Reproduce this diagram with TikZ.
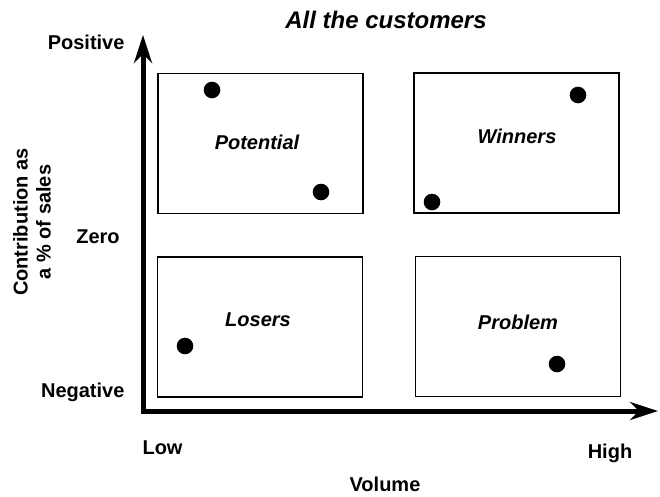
\documentclass[tikz,border=0pt]{standalone}
\usepackage{fontspec}
\setmainfont{Liberation Sans}
\usetikzlibrary{arrows.meta}
\begin{document}
\begin{tikzpicture}[x=1pt, y=-1pt, line join=miter,
  >={Stealth[length=28pt,width=18pt]},
  quad/.style={draw, line width=1.2pt, minimum width=205pt, minimum height=140pt, inner sep=0pt},
  lbl/.style={font=\fontsize{20}{23}\selectfont\bfseries\itshape},
  axlbl/.style={font=\fontsize{20}{23}\selectfont\bfseries}]
\useasboundingbox (0,0) rectangle (660,496);
\def \xo{143};
\def \yo{411};
% axes
\coordinate (ytop) at (\xo,35);
\coordinate (org) at (\xo,\yo);
\coordinate (xend) at (658,\yo);
\draw[<->, line width=5pt] (ytop) -- (org) -- (xend);
% quadrants
\node[quad] (pot) at (260.5,143.5) {};
\node[quad] (win) at (516.5,143) {};
\node[quad] (los) at (260,327) {};
\node[quad] (pro) at (518,326.5) {};
\node[lbl] (potl) at (257,142) {Potential};
\node[lbl] (winl) at (517,136) {Winners};
\node[lbl] (losl) at (258,320) {Losers};
\node[lbl] (prol) at (518,322) {Problem};
% customers
\foreach \x/\y in {212/90,321/192,578/95,432/202,185/346,557/364}{\fill[black] (\x,\y) circle(8.3pt);}
% texts
\node[lbl, font=\fontsize{24}{28}\selectfont\bfseries\itshape] (title) at (386,20) {All the customers};
\node[axlbl, anchor=east] (pos) at (128,42) {Positive};
\node[axlbl] (zero) at (98,237) {Zero};
\node[axlbl, anchor=east] (neg) at (128,392) {Negative};
\node[axlbl, rotate=90, align=center] (contrib) at (32,222) {Contribution as\\a \% of sales};
\node[axlbl, anchor=west] (low) at (139,448) {Low};
\node[axlbl] (high) at (610,453) {High};
\node[axlbl, anchor=base, inner sep=0pt] (vol) at (385,491) {Volume};
\end{tikzpicture}
\end{document}
